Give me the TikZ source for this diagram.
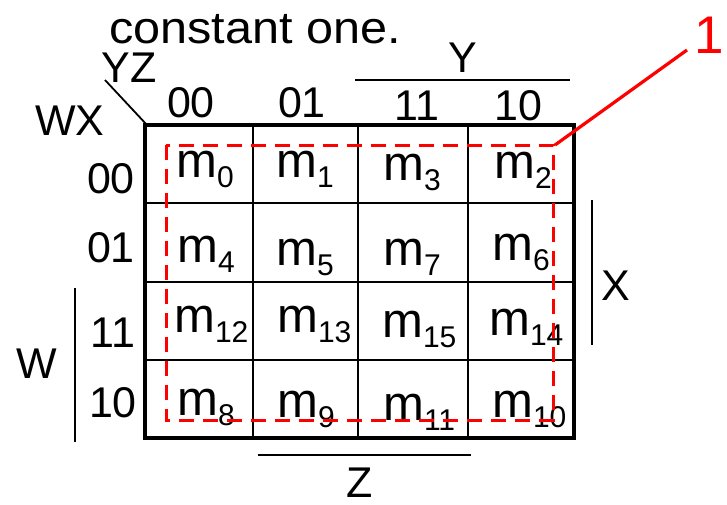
\documentclass[tikz,border=0pt]{standalone}
\usepackage{fontspec}
\setmainfont{Liberation Sans}
\usetikzlibrary{positioning}

\newcommand{\mcell}[1]{m\raisebox{-10pt}{\fontsize{30}{30}\selectfont #1}}

\begin{document}
\begin{tikzpicture}[x=1pt, y=-1pt,
    lbl/.style={font=\fontsize{43}{43}\selectfont, inner sep=0pt, anchor=base},
    cell/.style={font=\fontsize{49}{49}\selectfont, inner sep=0pt, anchor=base west},
    grid/.style={line width=1.8pt},
    frame/.style={line width=4.5pt},
    bar/.style={line width=1.8pt},
    loopbox/.style={red, line width=3pt, dash pattern=on 15pt off 9pt},
    lead/.style={red, line width=3.2pt}
]
\useasboundingbox (0,0) rectangle (727,504);

% title and corner labels
\node[lbl, font=\fontsize{45}{45}\selectfont] (title) at (255,43) {\scalebox{1.08}[1]{constant one.}};
\node[lbl] (yz) at (129,82) {YZ};
\node[lbl] (wx) at (70,135) {WX};
\coordinate (corner) at (147,125);
\draw[bar] (105,80) -- (corner);

% column labels
\node[lbl] (c00) at (191,117) {00};
\node[lbl] (c01) at (302,117) {01};
\node[lbl] (c11) at (417,120) {11};
\node[lbl] (c10) at (518,120) {10};
\node[lbl] (y) at (463,72) {Y};
\draw[bar] (355,80) -- (570,80);

% row labels
\node[lbl] (r00) at (111,193) {00};
\node[lbl] (r01) at (111,262) {01};
\node[lbl] (r11) at (113,347) {11};
\node[lbl] (r10) at (113,417) {10};
\node[lbl] (w) at (37,378) {W};
\draw[bar] (75,288) -- (75,442);
\node[lbl] (x) at (616,300) {X};
\draw[bar] (592,200) -- (592,345);
\node[lbl] (z) at (360,497) {Z};
\draw[bar] (258,455) -- (471,455);

% map grid
\draw[grid] (253,125) -- (253,438);
\draw[grid] (358,125) -- (358,438);
\draw[grid] (468,125) -- (468,438);
\draw[grid] (145,203) -- (574,203);
\draw[grid] (145,282) -- (574,282);
\draw[grid] (145,360) -- (574,360);
\draw[frame] (145,125) rectangle (574,438);

% minterms
\node[cell] (m0) at (176,177) {\mcell{0}};
\node[cell] (m1) at (276,177) {\mcell{1}};
\node[cell] (m3) at (383,180) {\mcell{3}};
\node[cell] (m2) at (494,178) {\mcell{2}};
\node[cell] (m4) at (177,262) {\mcell{4}};
\node[cell] (m5) at (276,265) {\mcell{5}};
\node[cell] (m7) at (383,265) {\mcell{7}};
\node[cell] (m6) at (492,260) {\mcell{6}};
\node[cell] (m12) at (174,332) {\mcell{12}};
\node[cell] (m13) at (277,332) {\mcell{13}};
\node[cell] (m15) at (382,337) {\mcell{15}};
\node[cell] (m14) at (489,335) {\mcell{14}};
\node[cell] (m8) at (177,415) {\mcell{8}};
\node[cell] (m9) at (277,417) {\mcell{9}};
\node[cell] (m11) at (383,420) {\mcell{11}};
\node[cell] (m10) at (492,417) {\mcell{10}};

% group of all ones
\draw[loopbox] (166,145) rectangle (553,420);
\coordinate (grp) at (555,145);
\node[lbl, red, font=\fontsize{53}{53}\selectfont] (one) at (709,53) {1};
\coordinate (tip) at (687,50);
\draw[lead] (grp) -- (tip);
\end{tikzpicture}
\end{document}
